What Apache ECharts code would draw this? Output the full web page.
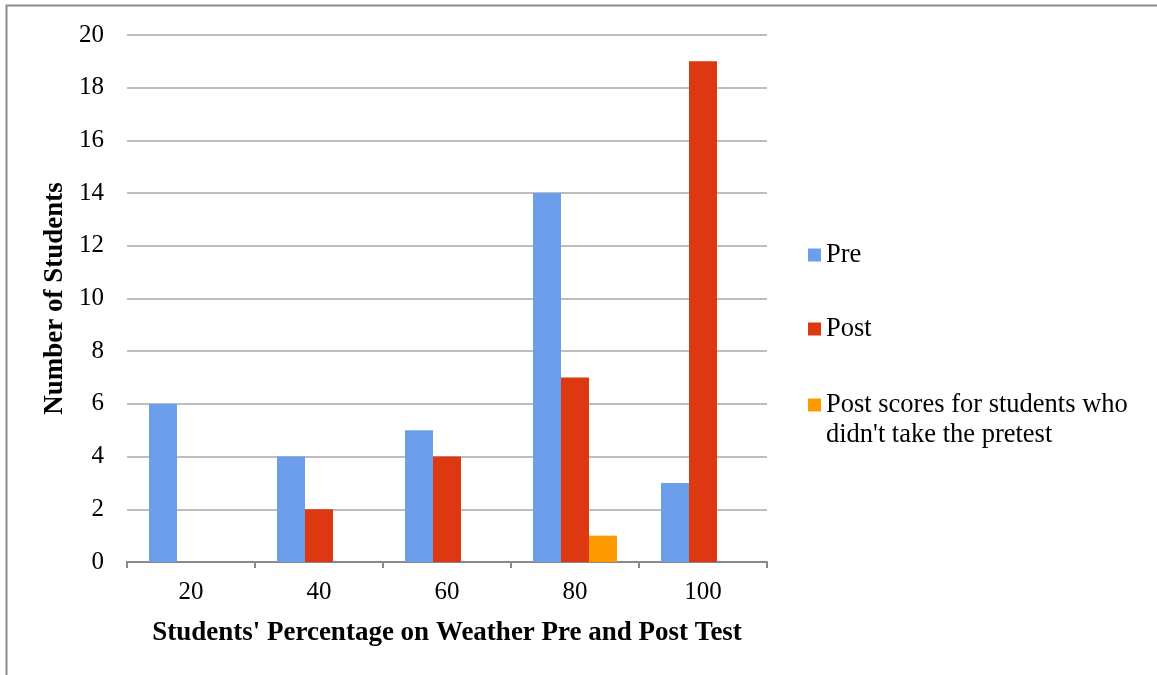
<!DOCTYPE html>
<html><head><meta charset="utf-8">
<script src="https://cdn.jsdelivr.net/npm/echarts@6/dist/echarts.min.js"></script>
<style>html,body{margin:0;padding:0;background:#fff}#c{width:1157px;height:675px}</style>
</head><body><div id="c"></div>
<script>
const categories = ['20', '40', '60', '80', '100'];
const preValues = [6, 4, 5, 14, 3];
const postValues = [0, 2, 4, 7, 19];
const noPretestValues = [0, 0, 0, 1, 0];
const seriesNames = ['Pre', 'Post', "Post scores for students who didn't take the pretest"];
const colors = ['#6D9EEB', '#DC3912', '#FF9900'];

const font = '"Liberation Serif", "Times New Roman", serif';
const legendText = { fontFamily: font, fontSize: 26.5, color: '#000', lineHeight: 30 };
const chart = echarts.init(document.getElementById('c'));
chart.setOption({
  animation: false,
  textStyle: { fontFamily: font },
  color: colors,
  graphic: [{
    type: 'rect', shape: { x: 6.5, y: 5.5, width: 1200, height: 700 },
    style: { fill: 'none', stroke: '#8c8c8c', lineWidth: 2 }, silent: true
  }],
  grid: { left: 127, right: 390, top: 35, bottom: 113 },
  legend: [{
    orient: 'vertical', left: 808, top: 240, itemGap: 44, padding: 0,
    itemWidth: 13, itemHeight: 13, icon: 'rect',
    data: [seriesNames[0], seriesNames[1]],
    textStyle: legendText
  }, {
    orient: 'vertical', left: 808, top: 360, padding: 0,
    itemWidth: 13, itemHeight: 13, icon: 'rect',
    data: [seriesNames[2]],
    formatter: function () { return " \nPost scores for students who\ndidn't take the pretest"; },
    textStyle: legendText
  }],
  xAxis: {
    type: 'category', data: categories,
    name: "Students' Percentage on Weather Pre and Post Test",
    nameLocation: 'middle', nameGap: 58,
    nameTextStyle: { fontFamily: font, fontSize: 27, fontWeight: 'bold', color: '#000' },
    axisLine: { lineStyle: { color: '#888', width: 2 } },
    axisTick: { show: true, length: 6, lineStyle: { color: '#888', width: 2 } },
    axisLabel: { fontFamily: font, fontSize: 25, color: '#000', margin: 18 }
  },
  yAxis: {
    type: 'value', min: 0, max: 20, interval: 2,
    name: 'Number of Students', nameLocation: 'middle', nameGap: 56,
    nameTextStyle: { fontFamily: font, fontSize: 27, fontWeight: 'bold', color: '#000' },
    axisLine: { show: false }, axisTick: { show: false },
    axisLabel: { fontFamily: font, fontSize: 25, color: '#000', margin: 23 },
    splitLine: { lineStyle: { color: '#bdbdbd', width: 2 } }
  },
  series: [
    { name: seriesNames[0], type: 'bar', data: preValues, barWidth: 28, barGap: '0%', itemStyle: { color: colors[0] } },
    { name: seriesNames[1], type: 'bar', data: postValues, barWidth: 28, barGap: '0%', itemStyle: { color: colors[1] } },
    { name: seriesNames[2], type: 'bar', data: noPretestValues, barWidth: 28, barGap: '0%', itemStyle: { color: colors[2] } }
  ]
});
</script></body></html>
